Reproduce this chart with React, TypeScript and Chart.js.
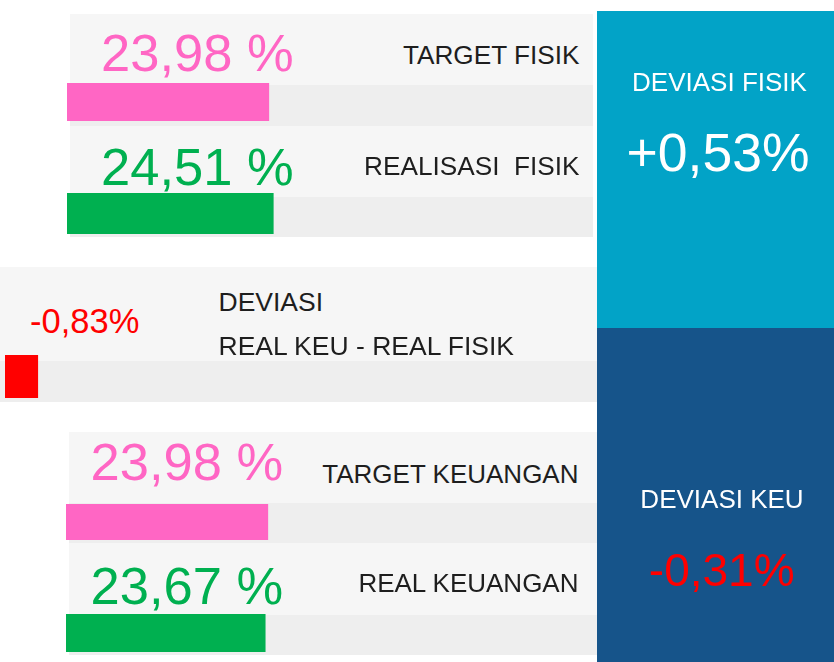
import React, { useEffect, useRef } from "react";
import { Chart, registerables } from "chart.js";

Chart.register(...registerables);

// ---- data ----
const fisikLabels = ["TARGET FISIK", "REALISASI  FISIK"];
const fisikValues = [23.98, 24.51];
const keuLabels = ["TARGET KEUANGAN", "REAL KEUANGAN"];
const keuValues = [23.98, 23.67];
const deviasiLabels = ["DEVIASI", "REAL KEU - REAL FISIK"];
const deviasiValue = -0.83;
const sideLabels = ["DEVIASI FISIK", "DEVIASI KEU"];
const sideValues = [0.53, -0.31];
const progressAxisMax = 62.5;
const deviasiAxisMax = 15;

const FONT = "'Liberation Sans', Arial, Helvetica, sans-serif";
const PINK = "#FF66C4";
const GREEN = "#00B050";
const RED = "#FF0000";
const PANEL = "#F6F6F6";
const TRACK = "#EEEEEE";
const TEAL = "#02A3C7";
const NAVY = "#16548A";
const INK = "#1E1E1E";

const fmt = (v: number, space: boolean, sign = false) =>
  (sign && v > 0 ? "+" : "") + v.toFixed(2).replace(".", ",") + (space ? " %" : "%");

function BarChart(props: {
  value: number;
  max: number;
  color: string;
  label: string;
  left: number;
  top: number;
  width: number;
  height: number;
}) {
  const ref = useRef<HTMLCanvasElement | null>(null);
  useEffect(() => {
    if (!ref.current) return;
    const chart = new Chart(ref.current, {
      type: "bar",
      data: {
        labels: [props.label],
        datasets: [
          {
            data: [props.value],
            backgroundColor: props.color,
            borderWidth: 0,
            barPercentage: 1,
            categoryPercentage: 1,
          },
        ],
      },
      options: {
        indexAxis: "y",
        responsive: false,
        maintainAspectRatio: false,
        animation: false,
        devicePixelRatio: 1,
        layout: { padding: 0 },
        scales: {
          x: { display: false, min: 0, max: props.max },
          y: { display: false },
        },
        plugins: { legend: { display: false }, tooltip: { enabled: false } },
      },
    });
    return () => chart.destroy();
  }, []);
  return (
    <canvas
      ref={ref}
      width={props.width}
      height={props.height}
      style={{
        position: "absolute",
        left: props.left,
        top: props.top,
        width: props.width,
        height: props.height,
      }}
    />
  );
}

function Box(props: { l: number; t: number; w: number; h: number; c: string }) {
  return (
    <div
      style={{
        position: "absolute",
        left: props.l,
        top: props.t,
        width: props.w,
        height: props.h,
        background: props.c,
      }}
    />
  );
}

function Txt(props: {
  text: string;
  size: number;
  color: string;
  capTop: number;
  left?: number;
  right?: number;
  center?: number;
}) {
  const top = props.capTop - 0.1305 * props.size;
  const style: React.CSSProperties = {
    position: "absolute",
    top,
    fontFamily: FONT,
    fontSize: props.size,
    lineHeight: `${props.size}px`,
    color: props.color,
    whiteSpace: "pre",
  };
  if (props.left !== undefined) style.left = props.left;
  if (props.right !== undefined) {
    style.left = props.right - 1000;
    style.width = 1000;
    style.textAlign = "right";
  }
  if (props.center !== undefined) {
    style.left = props.center - 500;
    style.width = 1000;
    style.textAlign = "center";
  }
  return <div style={style}>{props.text}</div>;
}

export default function App() {
  return (
    <div
      style={{
        position: "absolute",
        left: 0,
        top: 0,
        width: 834,
        height: 662,
        overflow: "hidden",
        background: "#FFFFFF",
      }}
    >
      {/* fisik panels */}
      <Box l={70} t={14} w={523} h={71} c={PANEL} />
      <Box l={70} t={85} w={523} h={41} c={TRACK} />
      <Box l={70} t={126} w={523} h={71} c={PANEL} />
      <Box l={70} t={197} w={523} h={40} c={TRACK} />
      {/* deviasi panel */}
      <Box l={0} t={267} w={597} h={94} c={PANEL} />
      <Box l={0} t={361} w={597} h={41} c={TRACK} />
      {/* keuangan panels */}
      <Box l={69} t={432} w={528} h={71} c={PANEL} />
      <Box l={69} t={503} w={528} h={40} c={TRACK} />
      <Box l={69} t={543} w={528} h={72} c={PANEL} />
      <Box l={69} t={615} w={528} h={40} c={TRACK} />

      <BarChart value={fisikValues[0]} max={progressAxisMax} color={PINK} label={fisikLabels[0]} left={67} top={83} width={526} height={38} />
      <BarChart value={fisikValues[1]} max={progressAxisMax} color={GREEN} label={fisikLabels[1]} left={67} top={193} width={526} height={41} />
      <BarChart value={Math.abs(deviasiValue)} max={deviasiAxisMax} color={RED} label={deviasiLabels[1]} left={5} top={355} width={592} height={43} />
      <BarChart value={keuValues[0]} max={progressAxisMax} color={PINK} label={keuLabels[0]} left={66} top={504} width={526} height={36} />
      <BarChart value={keuValues[1]} max={progressAxisMax} color={GREEN} label={keuLabels[1]} left={66} top={614} width={526} height={38} />

      <Txt text={fmt(fisikValues[0], true)} size={52.5} color={PINK} capTop={34.3} left={101} />
      <Txt text={fisikLabels[0]} size={26.2} color={INK} capTop={45} right={579.5} />
      <Txt text={fmt(fisikValues[1], true)} size={52.5} color={GREEN} capTop={148.3} left={101} />
      <Txt text={fisikLabels[1]} size={26.2} color={INK} capTop={156} right={579.5} />

      <Txt text={fmt(deviasiValue, false)} size={34.5} color={RED} capTop={308.3} left={30} />
      <Txt text={deviasiLabels[0]} size={26.5} color={INK} capTop={292.3} left={218.5} />
      <Txt text={deviasiLabels[1]} size={26.5} color={INK} capTop={336} left={218.5} />

      <Txt text={fmt(keuValues[0], true)} size={52.5} color={PINK} capTop={443.3} left={90.5} />
      <Txt text={keuLabels[0]} size={26} color={INK} capTop={464.3} right={578.5} />
      <Txt text={fmt(keuValues[1], true)} size={52.5} color={GREEN} capTop={566.7} left={90.5} />
      <Txt text={keuLabels[1]} size={26} color={INK} capTop={573.7} right={578.5} />

      {/* side deviation boxes */}
      <Box l={597} t={11} w={237} h={317} c={TEAL} />
      <Box l={597} t={328} w={237} h={334} c={NAVY} />
      <Txt text={sideLabels[0]} size={26} color="#FFFFFF" capTop={72.7} center={719.5} />
      <Txt text={fmt(sideValues[0], false, true)} size={53.5} color="#FFFFFF" capTop={133.3} center={718} />
      <Txt text={sideLabels[1]} size={26} color="#FFFFFF" capTop={489} center={722} />
      <Txt text={fmt(sideValues[1], false, true)} size={46} color={RED} capTop={553.3} center={721.7} />
    </div>
  );
}
